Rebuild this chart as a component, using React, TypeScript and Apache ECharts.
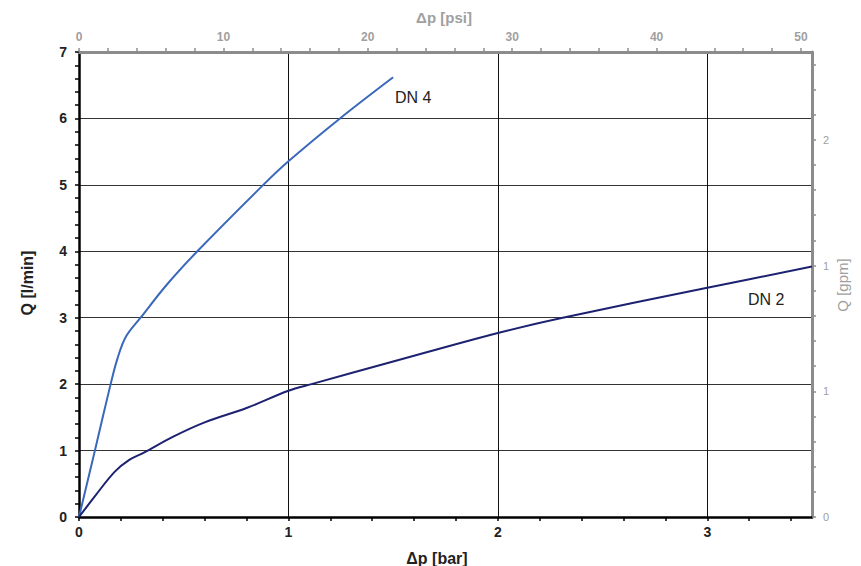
import React, { useEffect, useRef } from 'react';
import * as echarts from 'echarts';

// DN 4 curve: pressure drop [bar] vs flow [l/min]
const dn4Bar = [0, 0.076, 0.151, 0.185, 0.225, 0.294, 0.42, 0.565, 0.88, 1.0, 1.246, 1.5];
const dn4Q = [0, 1.0, 2.0, 2.4, 2.72, 3.0, 3.5, 4.0, 5.0, 5.355, 6.0, 6.62];

// DN 2 curve
const dn2Bar = [0, 0.08, 0.17, 0.24, 0.31, 0.45, 0.6, 0.8, 1.0, 1.11, 1.5, 2.0, 2.31, 3.0, 3.5];
const dn2Q = [0, 0.33, 0.68, 0.86, 0.97, 1.21, 1.425, 1.64, 1.9, 2.0, 2.34, 2.77, 3.0, 3.45, 3.77];

const seriesNames = ['DN 4', 'DN 2'];

const BAR_MAX = 3.5;
const LPM_MAX = 7;
const PSI_PER_BAR = 14.5038;
const LPM_PER_GPM = 3.785411784;

const FONT = '"Liberation Sans", Arial, sans-serif';

export default function App() {
  const ref = useRef<HTMLDivElement>(null);
  useEffect(() => {
    if (!ref.current) return;
    const chart = echarts.init(ref.current, undefined, { renderer: 'svg' });
    const zip = (xs: number[], ys: number[]) => xs.map((x, i) => [x, ys[i]]);
    const isMult = (v: number, step: number) => Math.abs(v / step - Math.round(v / step)) < 1e-6;

    chart.setOption({
      animation: false,
      backgroundColor: '#fff',
      textStyle: { fontFamily: FONT },
      grid: { left: 79, right: 49, top: 52, bottom: 49, containLabel: false },
      xAxis: [
        {
          type: 'value',
          position: 'bottom',
          min: 0,
          max: BAR_MAX,
          interval: 0.2,
          axisLine: { onZero: false, lineStyle: { color: '#000', width: 2.5 } },
          axisTick: { show: true, length: 4, lineStyle: { color: '#000', width: 1.5 } },
          axisLabel: {
            margin: 8,
            color: '#222',
            fontSize: 14,
            fontWeight: 'bold',
            fontFamily: FONT,
            showMaxLabel: false,
            formatter: (v: number) => (isMult(v, 1) ? String(Math.round(v)) : ''),
          },
          splitLine: { show: false },
        },
        {
          type: 'value',
          position: 'bottom',
          min: 0,
          max: BAR_MAX,
          interval: 1,
          axisLine: { show: false, onZero: false },
          axisTick: { show: false },
          axisLabel: { show: false },
          splitLine: { show: true, lineStyle: { color: '#111', width: 1 } },
        },
        {
          type: 'value',
          position: 'top',
          min: 0,
          max: BAR_MAX * PSI_PER_BAR,
          interval: 2,
          axisLine: { onZero: false, lineStyle: { color: '#8c8c8c', width: 3 } },
          axisTick: { show: true, length: 4, lineStyle: { color: '#8c8c8c', width: 1.5 } },
          axisLabel: {
            margin: 9,
            color: '#a0a0a0',
            fontSize: 12,
            fontWeight: 'bold',
            fontFamily: FONT,
            showMaxLabel: false,
            formatter: (v: number) => (isMult(v, 10) ? String(Math.round(v)) : ''),
          },
          splitLine: { show: false },
        },
      ],
      yAxis: [
        {
          type: 'value',
          position: 'left',
          min: 0,
          max: LPM_MAX,
          interval: 1,
          axisLine: { onZero: false, lineStyle: { color: '#000', width: 2.5 } },
          axisTick: { show: true, length: 4, lineStyle: { color: '#000', width: 1.5 } },
          minorTick: { show: true, splitNumber: 5, length: 4, lineStyle: { color: '#000', width: 1.5 } },
          axisLabel: {
            margin: 12,
            color: '#222',
            fontSize: 14,
            fontWeight: 'bold',
            fontFamily: FONT,
          },
          splitLine: { show: true, lineStyle: { color: '#333', width: 1 } },
        },
        {
          type: 'value',
          position: 'right',
          min: 0,
          max: LPM_MAX / LPM_PER_GPM,
          interval: 0.1,
          axisLine: { onZero: false, lineStyle: { color: '#8c8c8c', width: 3 } },
          axisTick: { show: true, length: 4, lineStyle: { color: '#8c8c8c', width: 1.5 } },
          axisLabel: {
            margin: 11,
            color: '#a0a0a0',
            fontSize: 11,
            fontFamily: FONT,
            showMaxLabel: false,
            formatter: (v: number) => (isMult(v, 0.5) ? String(Math.round(v)) : ''),
          },
          splitLine: { show: false },
        },
      ],
      series: [
        {
          name: seriesNames[0],
          type: 'line',
          xAxisIndex: 0,
          yAxisIndex: 0,
          data: zip(dn4Bar, dn4Q),
          showSymbol: false,
          smooth: 0.35,
          lineStyle: { color: '#3a68bb', width: 2 },
          z: 5,
        },
        {
          name: seriesNames[1],
          type: 'line',
          xAxisIndex: 0,
          yAxisIndex: 0,
          data: zip(dn2Bar, dn2Q),
          showSymbol: false,
          smooth: 0.35,
          lineStyle: { color: '#1c2270', width: 2 },
          z: 5,
        },
      ],
      graphic: [
        {
          type: 'text',
          x: 395,
          y: 97,
          style: { text: seriesNames[0], fill: '#222', font: `16px ${FONT}`, align: 'left', verticalAlign: 'middle' },
        },
        {
          type: 'text',
          x: 748,
          y: 299,
          style: { text: seriesNames[1], fill: '#222', font: `16px ${FONT}`, align: 'left', verticalAlign: 'middle' },
        },
        {
          type: 'text',
          x: 437,
          y: 558,
          style: { text: 'Δp [bar]', fill: '#222', font: `bold 16px ${FONT}`, align: 'center', verticalAlign: 'middle' },
        },
        {
          type: 'text',
          x: 444,
          y: 17,
          style: { text: 'Δp [psi]', fill: '#a0a0a0', font: `bold 15px ${FONT}`, align: 'center', verticalAlign: 'middle' },
        },
        {
          type: 'text',
          x: 27,
          y: 283,
          rotation: Math.PI / 2,
          style: { text: 'Q [l/min]', fill: '#222', font: `bold 16px ${FONT}`, align: 'center', verticalAlign: 'middle' },
        },
        {
          type: 'text',
          x: 842,
          y: 285,
          rotation: Math.PI / 2,
          style: { text: 'Q [gpm]', fill: '#a0a0a0', font: `15px ${FONT}`, align: 'center', verticalAlign: 'middle' },
        },
      ],
    });
    return () => chart.dispose();
  }, []);
  return <div ref={ref} style={{ position: 'fixed', left: 0, top: 0, width: 861, height: 566 }} />;
}
